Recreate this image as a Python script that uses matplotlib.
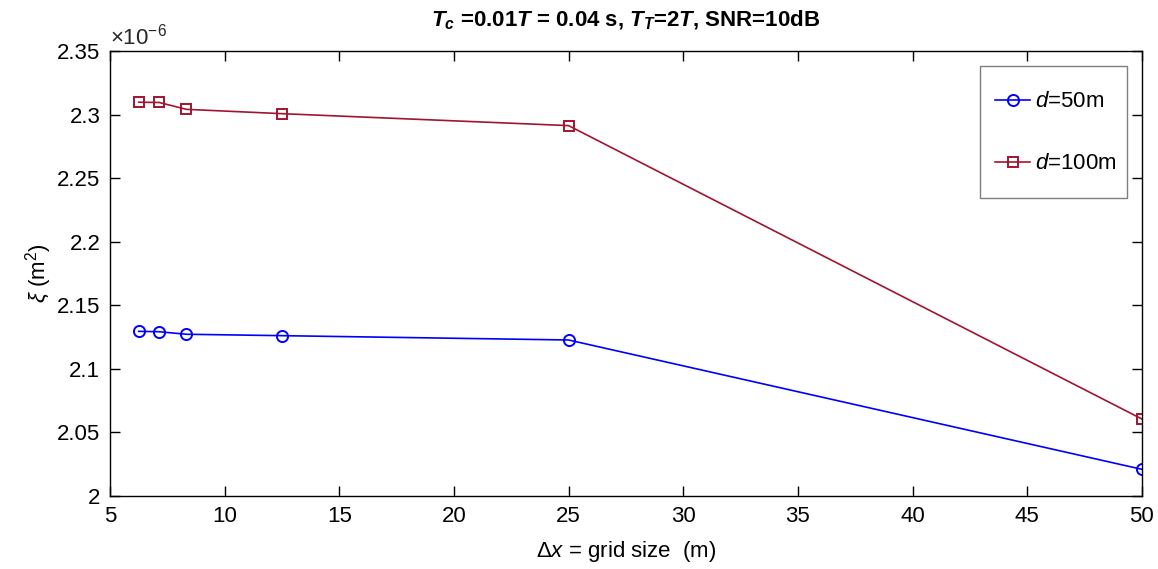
import numpy as np
import matplotlib
matplotlib.use("Agg")
import matplotlib.pyplot as plt
from matplotlib.patches import Rectangle
from matplotlib.ticker import FuncFormatter, MultipleLocator

plt.rcParams["font.family"] = ["Liberation Sans", "DejaVu Sans"]
plt.rcParams["mathtext.fontset"] = "custom"
plt.rcParams["mathtext.rm"] = "Liberation Sans"
plt.rcParams["mathtext.it"] = "Liberation Sans:italic"
plt.rcParams["mathtext.bf"] = "Liberation Sans:bold"
plt.rcParams["mathtext.bfit"] = "Liberation Sans:bold:italic"

# tamaño de malla (m) y error xi (x1e-6 m^2)
grid_size = [6.25, 50 / 7, 50 / 6, 12.5, 25, 50]
xi_d50 = [2.1295, 2.1292, 2.1272, 2.1261, 2.1227, 2.0210]
xi_d100 = [2.3097, 2.3095, 2.3041, 2.3007, 2.2913, 2.0606]

azul = "#0000FF"
rojo = "#A2142F"
fs = 16

fig = plt.figure(figsize=(11.58, 5.69), dpi=100)
ax = fig.add_axes([0.095, 0.1283, 0.891, 0.7821])

ax.plot(grid_size, xi_d50, "-o", color=azul, lw=1.2,
        ms=8, mfc="none", mew=1.4, label=r"$\mathit{d}$=50m")
ax.plot(grid_size, xi_d100, "-s", color=rojo, lw=1.2,
        ms=6.5, mfc="none", mew=1.4, label=r"$\mathit{d}$=100m")

ax.set_xlim(5, 50)
ax.set_ylim(2.0, 2.35)
ax.xaxis.set_major_locator(MultipleLocator(5))
ax.yaxis.set_major_locator(MultipleLocator(0.05))
ax.yaxis.set_major_formatter(FuncFormatter(lambda v, p: f"{v:g}"))
ax.tick_params(direction="in", top=True, right=True, length=7, width=1,
               labelsize=fs, pad=7)
for s in ax.spines.values():
    s.set_linewidth(1)

ax.text(0.0, 1.003, r"$\times$10$^{-6}$", transform=ax.transAxes,
        fontsize=fs, ha="left", va="bottom", color="#262626")

ax.set_xlabel(r"$\mathit{\Delta x}$ = grid size  (m)", fontsize=fs, labelpad=9)
ax.set_ylabel(r"$\xi$ (m$^2$)", fontsize=fs, labelpad=2)
ax.set_title(r"$\mathbfit{T}_{\mathbfit{c}}$ =0.01$\mathbfit{T}$ = 0.04 s, "
             r"$\mathbfit{T}_{\mathbfit{T}}$=2$\mathbfit{T}$, SNR=10dB",
             fontsize=fs, fontweight="bold", pad=18)

# caja de la leyenda al estilo MATLAB
caja = Rectangle((0.843, 0.6697), 0.1425, 0.2966, transform=ax.transAxes,
                 facecolor="white", edgecolor="#7f7f7f", lw=1, zorder=4)
ax.add_patch(caja)
leg = ax.legend(loc="center left", bbox_to_anchor=(0.8575, 0.816), fontsize=fs,
                frameon=False, labelspacing=1.85, handlelength=1.6,
                handletextpad=0.2, borderpad=0, borderaxespad=0)
leg.set_zorder(5)

fig.savefig("out.png", dpi=100)
